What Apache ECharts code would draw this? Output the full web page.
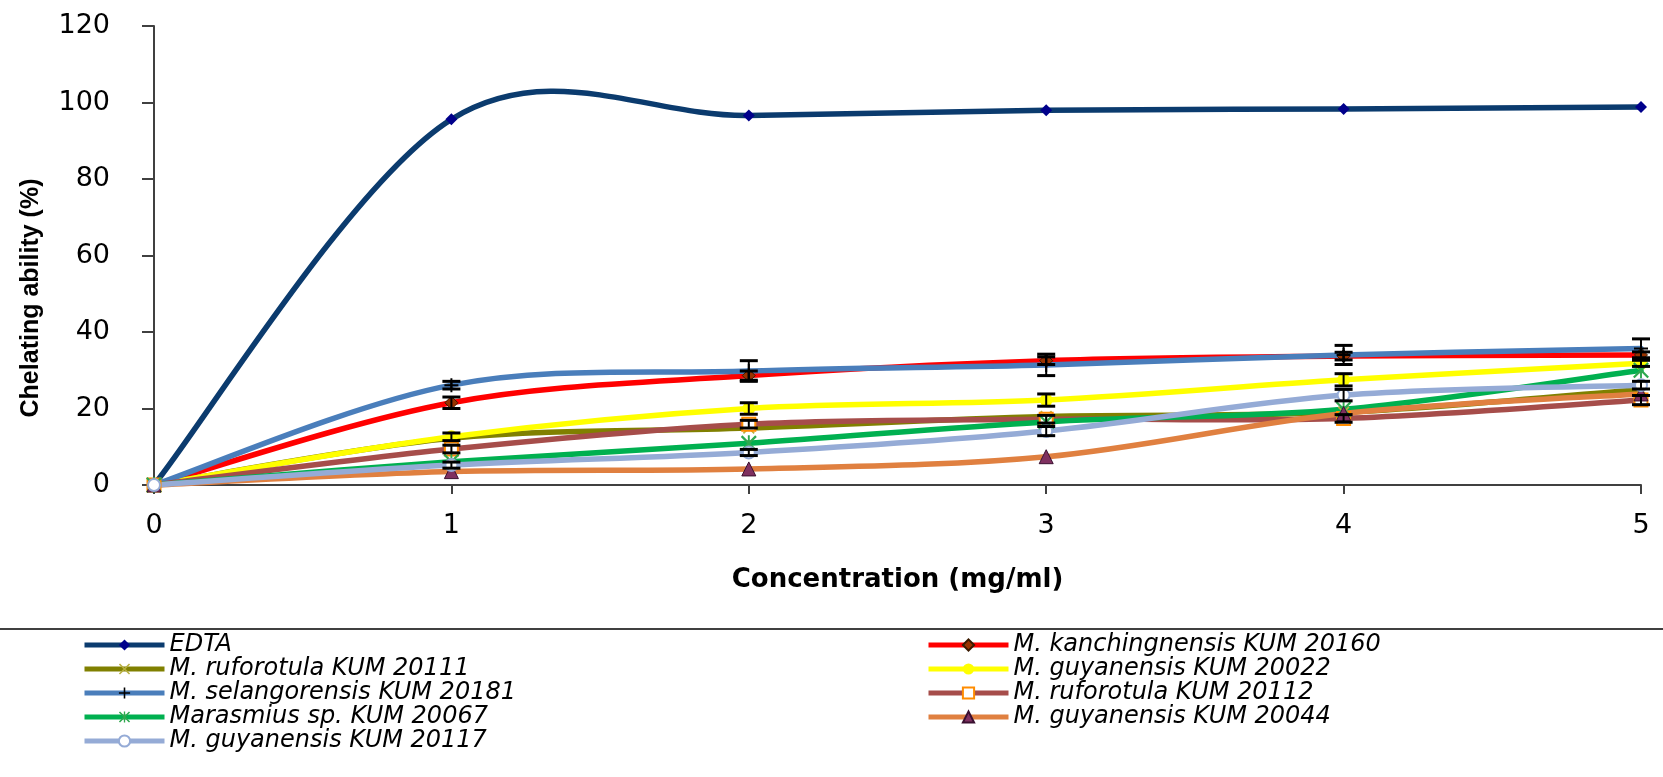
<!DOCTYPE html>
<html>
<head>
<meta charset="utf-8">
<script src="https://cdn.jsdelivr.net/npm/echarts@6/dist/echarts.min.js"></script>
<style>
  html, body { margin: 0; padding: 0; background: #fff; }
  #chart { width: 1663px; height: 777px; }
</style>
</head>
<body>
<div id="chart"></div>
<script>
// concentrations (mg/ml)
var conc = [0, 1, 2, 3, 4, 5];

// chelating ability (%)
var edta          = [0, 95.6, 96.6, 98.0, 98.3, 98.8];
var kanching20160 = [0, 21.5, 28.6, 32.5, 33.7, 34.0];
var rufo20111     = [0, 12.2, 14.9, 17.9, 19.0, 25.0];
var guya20022     = [0, 12.6, 20.0, 22.2, 27.5, 31.8];
var selang20181   = [0, 26.1, 29.8, 31.4, 34.0, 35.7];
var rufo20112     = [0, 9.4, 15.9, 17.2, 17.4, 22.2];
var maras20067    = [0, 6.1, 10.9, 16.5, 19.8, 30.0];
var guya20044     = [0, 3.5, 4.2, 7.4, 18.7, 23.8];
var guya20117     = [0, 5.2, 8.5, 14.1, 23.5, 26.1];

// error (+/-)
var errKanching = [0, 1.5, 1.2, 1.0, 1.0, 0.8];
var errSelang   = [0, 1.0, 2.7, 2.8, 2.5, 2.5];
var errGuya22   = [0, 1.0, 1.5, 1.6, 1.6, 0.8];
var errRufo12   = [0, 1.0, 1.0, 1.0, 1.0, 1.2];
var errGuya17   = [0, 0.8, 0.8, 1.2, 1.5, 1.0];

var plusPath = 'path://M4.3,0 L5.7,0 L5.7,10 L4.3,10 Z M0,4.3 L10,4.3 L10,5.7 L0,5.7 Z';
var xPath = 'path://M0,1 L1,0 L10,9 L9,10 Z M9,0 L10,1 L1,10 L0,9 Z';
var starPath = 'path://M4.4,0 L5.6,0 L5.6,10 L4.4,10 Z M0,1 L1,0 L10,9 L9,10 Z M9,0 L10,1 L1,10 L0,9 Z';

var LW = 5.5;

function pts(vals) {
    return conc.map(function (c, i) { return [c, vals[i]]; });
}

// smooth curve like the spreadsheet one (catmull-rom, 1/6 control points)
function curve(vals, color) {
    return {
        type: 'custom',
        data: pts(vals),
        silent: true,
        z: 2,
        renderItem: function (params, api) {
            var n = vals.length;
            var i = params.dataIndex;
            if (i >= n - 1) return null;
            var P = function (k) {
                k = Math.max(0, Math.min(n - 1, k));
                return api.coord([conc[k], vals[k]]);
            };
            var p0 = P(i - 1), p1 = P(i), p2 = P(i + 1), p3 = P(i + 2);
            return {
                type: 'bezierCurve',
                shape: {
                    x1: p1[0], y1: p1[1], x2: p2[0], y2: p2[1],
                    cpx1: p1[0] + (p2[0] - p0[0]) / 6, cpy1: p1[1] + (p2[1] - p0[1]) / 6,
                    cpx2: p2[0] - (p3[0] - p1[0]) / 6, cpy2: p2[1] - (p3[1] - p1[1]) / 6
                },
                style: { stroke: color, lineWidth: LW, fill: null, lineCap: 'round' }
            };
        }
    };
}

function marks(name, vals, color, symbol, size, itemStyle) {
    return {
        name: name,
        type: 'line',
        data: pts(vals),
        symbol: symbol,
        symbolSize: size,
        lineStyle: { color: color, width: LW, opacity: 0 },
        itemStyle: itemStyle,
        z: 3
    };
}

var defs = [
    ['EDTA', edta, '#0B3B6E', 'diamond', 12, { color: '#00008B' }],
    ['M. kanchingnensis KUM 20160', kanching20160, '#FF0000', 'diamond', 13, { color: '#993300', borderColor: '#3a1a00', borderWidth: 1 }],
    ['M. ruforotula KUM 20111', rufo20111, '#808000', xPath, 12, { color: '#B8B040' }],
    ['M. guyanensis KUM 20022', guya20022, '#FFFF00', 'circle', 13, { color: '#FFFF00' }],
    ['M. selangorensis KUM 20181', selang20181, '#4A7EBB', plusPath, 14, { color: '#000000' }],
    ['M. ruforotula KUM 20112', rufo20112, '#A64D4A', 'emptyRect', 13, { color: '#FF8C00', borderColor: '#FF8C00', borderWidth: 2 }],
    ['Marasmius sp. KUM 20067', maras20067, '#00B050', starPath, 16, { color: '#2FA84F' }],
    ['M. guyanensis KUM 20044', guya20044, '#E08040', 'triangle', 14, { color: '#7F3060', borderColor: '#3a1030', borderWidth: 1 }],
    ['M. guyanensis KUM 20117', guya20117, '#95ABD6', 'emptyCircle', 12, { color: '#95ABD6', borderColor: '#31849B', borderWidth: 2 }]
];

var series = [];
var lineColor = {};
defs.forEach(function (d) {
    series.push(curve(d[1], d[2]));
    lineColor[d[0]] = d[2];
});
defs.forEach(function (d) {
    series.push(marks(d[0], d[1], d[2], d[3], d[4], d[5]));
});

// error bar points [x, low, high]
var errPts = [];
[[kanching20160, errKanching], [selang20181, errSelang], [guya20022, errGuya22],
 [rufo20112, errRufo12], [guya20117, errGuya17]].forEach(function (p) {
    conc.forEach(function (c, i) {
        if (p[1][i] > 0) errPts.push([c, p[0][i] - p[1][i], p[0][i] + p[1][i]]);
    });
});

series.push({
    type: 'custom',
    data: errPts,
    silent: true,
    z: 10,
    renderItem: function (params, api) {
        var top = api.coord([api.value(0), api.value(2)]);
        var bot = api.coord([api.value(0), api.value(1)]);
        var hw = 9;
        return {
            type: 'group',
            children: [
                { type: 'line', shape: { x1: top[0], y1: top[1], x2: bot[0], y2: bot[1] }, style: { stroke: '#000', lineWidth: 2 } },
                { type: 'line', shape: { x1: top[0] - hw, y1: top[1], x2: top[0] + hw, y2: top[1] }, style: { stroke: '#000', lineWidth: 3 } },
                { type: 'line', shape: { x1: bot[0] - hw, y1: bot[1], x2: bot[0] + hw, y2: bot[1] }, style: { stroke: '#000', lineWidth: 3 } }
            ]
        };
    }
});

function legendItems(names) {
    return names.map(function (n) {
        return { name: n, lineStyle: { color: lineColor[n], width: 5, opacity: 1 } };
    });
}

var legendText = { fontFamily: 'DejaVu Sans', fontStyle: 'italic', fontSize: 24, color: '#000', lineHeight: 24 };

var option = {
    animation: false,
    backgroundColor: '#fff',
    grid: { left: 154, right: 22, top: 26, bottom: 292 },
    xAxis: {
        type: 'value',
        min: 0, max: 5, interval: 1,
        name: 'Concentration (mg/ml)',
        nameLocation: 'middle',
        nameGap: 82,
        nameTextStyle: { fontFamily: 'DejaVu Sans', fontWeight: 'bold', fontSize: 26, color: '#000' },
        axisLine: { lineStyle: { color: '#404040', width: 2 } },
        axisTick: { inside: false, length: 9, lineStyle: { color: '#404040', width: 2 } },
        axisLabel: { fontFamily: 'DejaVu Sans', fontSize: 27, color: '#000', margin: 27 },
        splitLine: { show: false }
    },
    yAxis: {
        type: 'value',
        min: 0, max: 120, interval: 20,
        axisLine: { show: true, lineStyle: { color: '#404040', width: 2 } },
        axisTick: { show: true, inside: false, length: 12, lineStyle: { color: '#404040', width: 2 } },
        axisLabel: { fontFamily: 'DejaVu Sans', fontSize: 27, color: '#000', margin: 44 },
        splitLine: { show: false }
    },
    legend: [
        {
            orient: 'vertical',
            left: 77, top: 628,
            itemWidth: 80, itemHeight: 14, itemGap: 0,
            textStyle: legendText,
            data: legendItems(['EDTA', 'M. ruforotula KUM 20111', 'M. selangorensis KUM 20181',
                   'Marasmius sp. KUM 20067', 'M. guyanensis KUM 20117'])
        },
        {
            orient: 'vertical',
            left: 921, top: 628,
            itemWidth: 80, itemHeight: 14, itemGap: 0,
            textStyle: legendText,
            data: legendItems(['M. kanchingnensis KUM 20160', 'M. guyanensis KUM 20022',
                   'M. ruforotula KUM 20112', 'M. guyanensis KUM 20044'])
        }
    ],
    graphic: [
        { type: 'line', shape: { x1: 0, y1: 629, x2: 1663, y2: 629 }, style: { stroke: '#404040', lineWidth: 2 } },
        {
            type: 'text', x: 31, y: 298, rotation: Math.PI / 2,
            style: {
                text: 'Chelating ability (%)',
                font: 'bold 25px "Liberation Sans"',
                fill: '#000',
                align: 'center', verticalAlign: 'middle',
                textAlign: 'center', textVerticalAlign: 'middle'
            }
        }
    ],
    series: series
};

var chart = echarts.init(document.getElementById('chart'));
chart.setOption(option);
</script>
</body>
</html>
